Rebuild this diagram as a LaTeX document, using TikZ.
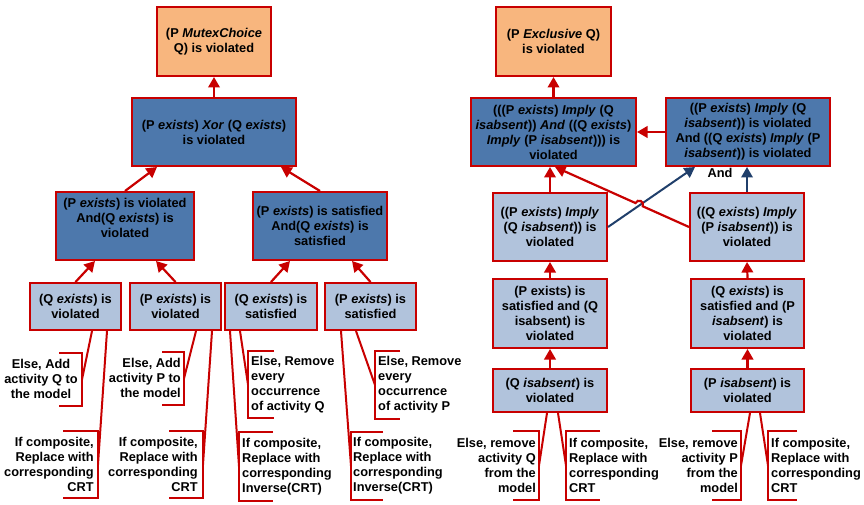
\documentclass[tikz,border=0pt]{standalone}
\usepackage{fontspec}
\setmainfont{Liberation Sans}
\usetikzlibrary{arrows.meta,calc}
\definecolor{bred}{HTML}{C80000}
\definecolor{orfill}{HTML}{F8B67E}
\definecolor{dkfill}{HTML}{4D78AC}
\definecolor{ltfill}{HTML}{B1C3DC}
\definecolor{navy}{HTML}{203F6B}
\begin{document}
\begin{tikzpicture}[x=1pt,y=-1pt,
  every node/.style={font=\fontsize{12.8}{15}\selectfont\bfseries, inner sep=0pt},
  obox/.style={draw=bred, line width=2pt, fill=orfill, align=center},
  dbox/.style={draw=bred, line width=2pt, fill=dkfill, align=center},
  lbox/.style={draw=bred, line width=2pt, fill=ltfill, align=center},
  rarr/.style={draw=bred, line width=2.2pt, -{Triangle[length=10.5pt,width=11.5pt]}},
  narr/.style={draw=navy, line width=2pt, -{Triangle[length=10.5pt,width=11.5pt]}},
  leader/.style={draw=bred, line width=2pt},
  bracket/.style={draw=bred, line width=2pt}
]
\useasboundingbox (0,0) rectangle (864,505);

% ---------------- left tree ----------------
\node[obox, minimum width=114pt, minimum height=69pt] (oL) at (214,41.5) {(P \textit{MutexChoice}\\Q) is violated};
\node[dbox, minimum width=164pt, minimum height=68pt] (xor) at (214,132) {(P \textit{exists}) \textit{Xor} (Q \textit{exists})\\is violated};
\node[dbox, minimum width=138pt, minimum height=68pt] (lm) at (125,226) {};
\node[align=center] (lmt) at (125,218) {(P \textit{exists}) is violated\\And(Q \textit{exists}) is\\violated};
\node[dbox, minimum width=134pt, minimum height=68pt] (rm) at (320,226) {(P \textit{exists}) is satisfied\\And(Q \textit{exists}) is\\satisfied};
\node[lbox, minimum width=91pt, minimum height=47pt] (qv) at (75.5,306.5) {(Q \textit{exists}) is\\violated};
\node[lbox, minimum width=91pt, minimum height=47pt] (pv) at (175.5,306.5) {(P \textit{exists}) is\\violated};
\node[lbox, minimum width=92pt, minimum height=47pt] (qs) at (271,306.5) {(Q \textit{exists}) is\\satisfied};
\node[lbox, minimum width=91pt, minimum height=47pt] (ps) at (370.5,306.5) {(P \textit{exists}) is\\satisfied};

\draw[rarr] (xor.north) -- (oL.south);
\draw[rarr] (lm.north) -- ([xshift=-57pt]xor.south);
\draw[rarr] (rm.north) -- ([xshift=67pt]xor.south);
\draw[rarr] (qv.north) -- ([xshift=-30pt]lm.south);
\draw[rarr] (pv.north) -- ([xshift=31pt]lm.south);
\draw[rarr] (qs.north) -- ([xshift=-30pt]rm.south);
\draw[rarr] (ps.north) -- ([xshift=32pt]rm.south);

% callouts left tree
\node[align=center] (c1) at (41,379) {Else, Add\\activity Q to\\the model};
\draw[bracket] (59,353) -- (82,353) -- (82,406) -- (59,406);
\coordinate (m1) at (82,379.5);
\draw[leader] ([xshift=16.5pt]qv.south) -- (m1);

\node[align=right, anchor=east] (c2) at (94,464.5) {If composite,\\Replace with\\corresponding\\CRT};
\draw[bracket] (63,431) -- (98,431) -- (98,498) -- (63,498);
\coordinate (m2) at (98,464.5);
\draw[leader] ([xshift=31.5pt]qv.south) -- (m2);

\node[align=right, anchor=east] (c3) at (181,378) {Else, Add\\activity P to\\the model};
\draw[bracket] (162,352) -- (184,352) -- (184,405) -- (162,405);
\coordinate (m3) at (184,378.5);
\draw[leader] ([xshift=20.5pt]pv.south) -- (m3);

\node[align=right, anchor=east] (c4) at (198,464.5) {If composite,\\Replace with\\corresponding\\CRT};
\draw[bracket] (169,431) -- (203,431) -- (203,498) -- (169,498);
\coordinate (m4) at (203,464.5);
\draw[leader] ([xshift=36.5pt]pv.south) -- (m4);

\node[align=left, anchor=west] (c5) at (251,384.5) {Else, Remove\\every\\occurrence\\of activity Q};
\draw[bracket] (274,351) -- (248,351) -- (248,418) -- (274,418);
\coordinate (m5) at (248,384.5);
\draw[leader] ([xshift=-31pt]qs.south) -- (m5);

\node[align=left, anchor=west] (c6) at (242,466.5) {If composite,\\Replace with\\corresponding\\Inverse(CRT)};
\draw[bracket] (273,432) -- (239,432) -- (239,501) -- (273,501);
\coordinate (m6) at (239,466.5);
\draw[leader] ([xshift=-41pt]qs.south) -- (m6);

\node[align=left, anchor=west] (c7) at (378,385) {Else, Remove\\every\\occurrence\\of activity P};
\draw[bracket] (400,351) -- (375,351) -- (375,419) -- (400,419);
\coordinate (m7) at (375,385);
\draw[leader] ([xshift=-14.5pt]ps.south) -- (m7);

\node[align=left, anchor=west] (c8) at (353,466) {If composite,\\Replace with\\corresponding\\Inverse(CRT)};
\draw[bracket] (383,432) -- (351,432) -- (351,500) -- (383,500);
\coordinate (m8) at (351,466);
\draw[leader] ([xshift=-29.5pt]ps.south) -- (m8);

% ---------------- right tree ----------------
\node[obox, minimum width=115pt, minimum height=69pt] (oR) at (553.5,41.5) {(P \textit{Exclusive} Q)\\is violated};
\node[dbox, minimum width=165pt, minimum height=68pt] (dl) at (553.5,132) {(((P \textit{exists}) \textit{Imply} (Q\\\textit{isabsent})) \textit{And} ((Q \textit{exists})\\\textit{Imply} (P \textit{isabsent}))) is\\violated};
\node[dbox, minimum width=164pt, minimum height=68pt] (dr) at (748,132) {((P \textit{exists}) \textit{Imply} (Q\\\textit{isabsent})) is violated\\And ((Q \textit{exists}) \textit{Imply} (P\\\textit{isabsent})) is violated};
\node[lbox, minimum width=114pt, minimum height=68pt] (ll) at (550,227) {((P \textit{exists}) \textit{Imply}\\(Q \textit{isabsent})) is\\violated};
\node[lbox, minimum width=114pt, minimum height=68pt] (lr) at (747,227) {((Q \textit{exists}) \textit{Imply}\\(P \textit{isabsent})) is\\violated};
\node[lbox, minimum width=114pt, minimum height=69pt] (sl) at (550,313.5) {(P exists) is\\satisfied and (Q\\isabsent) is\\violated};
\node[lbox, minimum width=113pt, minimum height=69pt] (sr) at (747.5,313.5) {(Q \textit{exists}) is\\satisfied and (P\\\textit{isabsent}) is\\violated};
\node[lbox, minimum width=114pt, minimum height=43pt] (al) at (550,390.5) {(Q \textit{isabsent}) is\\violated};
\node[lbox, minimum width=113pt, minimum height=43pt] (ar) at (747.5,390.5) {(P \textit{isabsent}) is\\violated};
\node (andl) at (720,173) {And};

\draw[rarr] (dl.north) -- (oR.south);
\draw[rarr] (dr.west) -- (dl.east);
\draw[rarr] (ll.north) -- ([xshift=-3.5pt]dl.south);
\draw[narr] (ll.east) -- ([xshift=-53pt]dr.south);
\draw[narr] (lr.north) -- ([xshift=-1pt]dr.south);
\coordinate (hopA) at ($(lr.west)!0.345!([xshift=1.5pt]dl.south)$);
\coordinate (hopB) at ($(lr.west)!0.399!([xshift=1.5pt]dl.south)$);
\draw[rarr] (lr.west) -- (hopA) .. controls ($(hopA)!5.3pt!-90:(hopB)$) and ($(hopB)!5.3pt!90:(hopA)$) .. (hopB) -- ([xshift=1.5pt]dl.south);
\draw[rarr] (sl.north) -- (ll.south);
\draw[rarr] (sr.north) -- (lr.south);
\draw[rarr] (al.north) -- (sl.south);
\draw[rarr] (ar.north) -- (sr.south);

% callouts right tree
\node[align=right, anchor=east] (c9) at (536,465.5) {Else, remove\\activity Q\\from the\\model};
\draw[bracket] (513,431) -- (539,431) -- (539,500) -- (513,500);
\coordinate (m9) at (539,465.5);
\draw[leader] ([xshift=-3pt]al.south) -- (m9);

\node[align=left, anchor=west] (c10) at (569,465.5) {If composite,\\Replace with\\corresponding\\CRT};
\draw[bracket] (600,431) -- (566,431) -- (566,500) -- (600,500);
\coordinate (m10) at (566,465.5);
\draw[leader] ([xshift=8pt]al.south) -- (m10);

\node[align=right, anchor=east] (c11) at (738,465.5) {Else, remove\\activity P\\from the\\model};
\draw[bracket] (712,431) -- (741,431) -- (741,500) -- (712,500);
\coordinate (m11) at (741,465.5);
\draw[leader] ([xshift=2.5pt]ar.south) -- (m11);

\node[align=left, anchor=west] (c12) at (771,465.5) {If composite,\\Replace with\\corresponding\\CRT};
\draw[bracket] (797,431) -- (768,431) -- (768,500) -- (797,500);
\coordinate (m12) at (768,465.5);
\draw[leader] ([xshift=12.5pt]ar.south) -- (m12);
\end{tikzpicture}
\end{document}
